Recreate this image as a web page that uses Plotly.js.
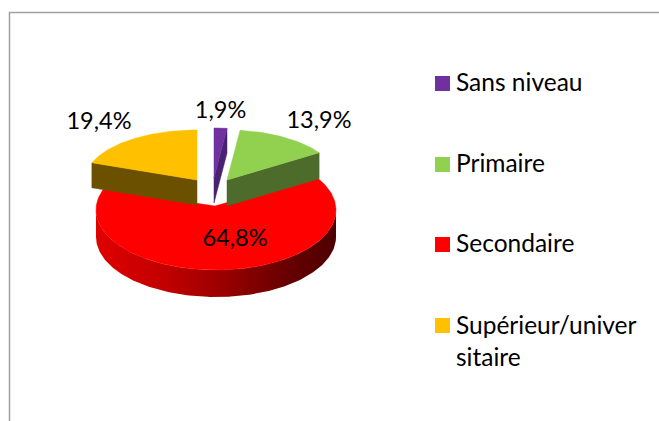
<!DOCTYPE html>
<html><head><meta charset="utf-8">
<script src="https://cdn.plot.ly/plotly-3.0.1.min.js"></script>
<style>html,body{margin:0;padding:0;background:#fff}#c{width:659px;height:421px}</style>
</head><body><div id="c"></div>
<script>
// Data
const categories = ['Sans niveau','Primaire','Secondaire','Supérieur/univer<br>sitaire'];
const values = [1.9,13.9,64.8,19.4];
const pctLabels = ['1,9%','13,9%','64,8%','19,4%'];
const topColors = ['#7030a0','#92d050','#ff0000','#ffc000'];
const wallColors = ['#4a2170','#4d6b2a','#a00000','#6b5000'];

// Projection of each exploded slice (Excel 3D perspective look)
const geom = [
  {cx:214,cy:178,rx:109,ry:50,d:25},
  {cx:227,cy:180,rx:110,ry:50,d:26},
  {cx:216,cy:210,rx:120,ry:60,d:27,ax:215,ay:206},
  {cx:197,cy:180,rx:112,ry:50,d:25}
];
const LBL = {x:[220.5,319,235,99], y:[112,122,240,123.5]};
const LEG = {sx:442.5, tx:454, y:[83.5,164.5,244.5,325.5]};
const TEXTY = [81.5,162.5,242.5,308];

const rad = a => a*Math.PI/180;
const pt = (g,a) => [g.cx+g.rx*Math.sin(rad(a)), g.cy-g.ry*Math.cos(rad(a))];
let cum = 0;
const spans = values.map(v => { const s=[cum, cum+v*3.6]; cum+=v*3.6; return s; });

function arc(g,a0,a1,dy){
  const xs=[],ys=[]; const n=Math.max(4,Math.ceil(Math.abs(a1-a0)));
  for(let i=0;i<=n;i++){const p=pt(g,a0+(a1-a0)*i/n); xs.push(p[0]); ys.push(p[1]+(dy||0));}
  return [xs,ys];
}
function poly(xs,ys,color,extra){
  return Object.assign({type:'scatter',mode:'lines',x:xs,y:ys,fill:'toself',fillcolor:color,
    line:{color:color,width:0.5},hoverinfo:'skip',showlegend:false},extra||{});
}
function face(i){
  const g=geom[i],s=spans[i],[xs,ys]=arc(g,s[0],s[1]);
  const ax=g.ax||g.cx, ay=g.ay||g.cy;
  return poly([ax,...xs,ax],[ay,...ys,ay],topColors[i]);
}
function edgeWall(i,a){
  const g=geom[i],p=pt(g,a);
  return poly([g.cx,p[0],p[0],g.cx,g.cx],[g.cy,p[1],p[1]+g.d,g.cy+g.d,g.cy],wallColors[i]);
}
// Red outer wall
const gr=geom[2];
const [tx,ty]=arc(gr,90,270,0), [bx,by]=arc(gr,270,90,gr.d);
const redWall=poly([...tx,...bx,tx[0]],[...ty,...by,ty[0]],'#a00000',{
  fillgradient:{type:'horizontal',colorscale:[[0,'#e00000'],[0.3,'#c00000'],[0.55,'#960000'],[0.8,'#660000'],[1,'#4e0000']]},
  line:{width:0}
});

const traces=[
  redWall, face(2),
  edgeWall(1,spans[1][1]), face(1),
  edgeWall(3,spans[3][0]), face(3),
  edgeWall(0,spans[0][1]), face(0),
  {type:'scatter',mode:'text',x:LBL.x,y:LBL.y,text:pctLabels,textposition:'middle center',
   textfont:{family:'Lato, Carlito, sans-serif',size:23.5,color:'#000'},hoverinfo:'skip',showlegend:false},
  {type:'scatter',mode:'markers',x:categories.map(()=>LEG.sx),y:LEG.y,
   marker:{symbol:'square',size:15,color:topColors,line:{width:0}},hoverinfo:'skip',showlegend:false}
];
const annotations=categories.map((c,i)=>({
  x:LEG.tx,y:TEXTY[i],xref:'x',yref:'y',xanchor:'left',
  yanchor:i===3?'top':'middle',
  text:c,align:'left',showarrow:false,
  font:{family:'Lato, Carlito, sans-serif',size:24.5,color:'#000'}
}));
const hidden={visible:false,fixedrange:true};
Plotly.newPlot('c',traces,{
  width:659,height:421,margin:{l:0,r:0,t:0,b:0},
  paper_bgcolor:'#fff',plot_bgcolor:'#fff',hovermode:false,showlegend:false,
  xaxis:Object.assign({range:[0,659]},hidden),
  yaxis:Object.assign({range:[421,0]},hidden),
  annotations,
  shapes:[{type:'path',xref:'x',yref:'y',path:'M 659 12.5 L 9.5 12.5 L 9.5 421',line:{color:'#a0a0a0',width:1.5}}]
},{staticPlot:true,displayModeBar:false});
</script></body></html>
